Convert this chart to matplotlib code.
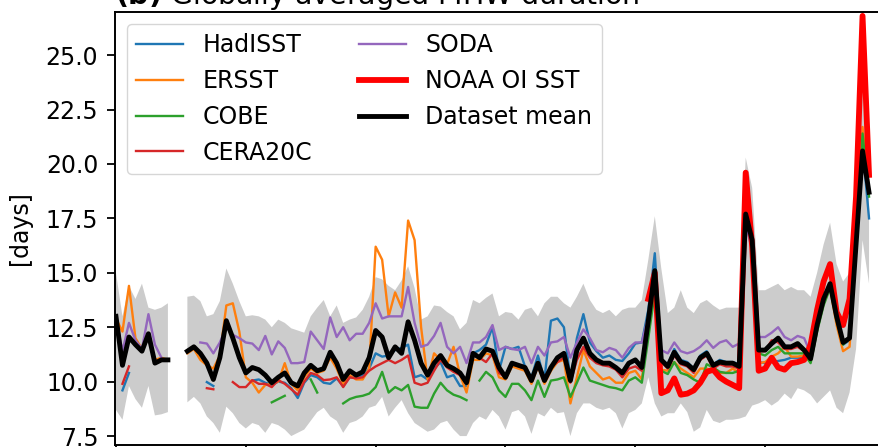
import numpy as np
import matplotlib
matplotlib.use("Agg")
import matplotlib.pyplot as plt

nan = np.nan

# annual values, 1900-2016
years = np.arange(1900, 2017)
noaa_years = np.arange(1982, 2017)

dataset_mean = [
    13.0, 10.75, 12.05, 11.7, 11.4, 12.2, 10.85, 11.0, 11.0, nan,
    nan, 11.4, 11.6, 11.3, 10.85, 10.1, 11.1, 12.8, 12.0, 11.1,
    10.4, 10.65, 10.55, 10.3, 9.95, 10.2, 10.4, 9.95, 9.8, 10.4,
    10.75, 10.5, 10.6, 11.35, 10.85, 10.1, 10.5, 10.3, 10.45, 11.1,
    12.35, 12.05, 11.1, 11.6, 11.3, 12.75, 11.9, 10.85, 10.3, 10.85,
    11.2, 10.75, 10.6, 10.4, 9.95, 11.3, 11.1, 11.5, 11.4, 10.65,
    10.2, 10.85, 10.75, 10.65, 10.05, 10.85, 10.05, 10.65, 11.1, 11.3,
    10.05, 11.45, 12.0, 11.3, 11.0, 10.85, 10.85, 10.65, 10.4, 10.85,
    11.0, 10.65, 12.8, 15.1, 11.0, 10.7, 11.35, 10.9, 10.8, 10.55,
    11.1, 11.3, 10.75, 10.9, 10.85, 10.85, 10.7, 17.7, 16.5, 11.45,
    11.45, 11.75, 12.0, 11.6, 11.6, 11.75, 11.45, 11.05, 12.6, 13.8,
    14.5, 13.0, 11.8, 12.0, 16.3, 20.6, 18.7,
]

spread_upper = [
    15.0, 13.0, 14.4, 13.8, 14.5, 13.4, 13.3, 13.4, 13.6, nan,
    nan, 13.9, 13.95, 13.7, 13.0, 13.1, 13.7, 15.2, 14.5, 13.7,
    13.0, 13.05, 13.0, 12.85, 12.5, 12.85, 12.7, 12.45, 12.35, 12.25,
    13.0, 13.4, 13.75, 13.0, 13.5, 12.7, 12.85, 12.95, 13.3, 13.9,
    14.8, 14.7, 14.4, 14.2, 14.65, 15.3, 14.3, 12.85, 13.0, 13.5,
    13.45, 13.2, 13.0, 12.4, 12.7, 13.75, 13.6, 13.85, 14.05, 13.0,
    13.2, 13.15, 12.85, 13.3, 13.4, 13.0, 13.6, 13.9, 13.9, 13.6,
    13.4, 13.9, 14.5, 13.75, 13.3, 13.15, 13.3, 13.0, 13.3, 13.4,
    13.4, 13.75, 15.6, 17.6, 15.2, 13.15, 13.4, 14.2, 13.4, 13.15,
    13.6, 13.75, 13.5, 13.3, 13.4, 13.4, 13.4, 20.3, 18.9, 14.2,
    14.2, 14.35, 14.5, 14.2, 14.35, 14.2, 14.2, 13.9, 15.0, 16.3,
    17.3, 15.4, 14.6, 15.0, 19.5, 24.5, 19.8,
]

spread_lower = [
    8.7, 8.25, 9.8, 9.2, 8.8, 9.8, 8.45, 8.5, 8.6, nan,
    nan, 9.05, 9.3, 9.0, 8.4, 8.1, 7.65, 8.85, 8.55, 8.1,
    7.85, 8.1, 8.0, 7.65, 8.1, 8.0, 7.8, 7.5, 7.65, 7.8,
    8.2, 8.6, 8.8, 8.4, 8.2, 7.65, 8.1, 8.2, 8.4, 8.8,
    8.9, 9.3, 8.4, 8.8, 9.15, 8.55, 8.1, 7.9, 7.7, 7.8,
    8.1, 8.2, 7.8, 7.5, 7.5, 8.1, 8.4, 8.25, 8.7, 8.4,
    7.8, 8.6, 8.7, 8.4, 7.6, 8.55, 8.4, 8.8, 8.55, 8.6,
    7.5, 8.55, 9.0, 9.0, 8.8, 8.7, 8.8, 8.55, 7.85, 8.55,
    8.7, 9.0, 10.2, 9.0, 8.4, 8.55, 8.55, 9.0, 8.6, 7.7,
    7.9, 8.7, 8.2, 8.1, 8.25, 8.25, 8.3, 8.4, 8.9, 9.0,
    9.15, 8.9, 9.1, 9.45, 9.2, 9.7, 9.6, 9.4, 9.0, 9.3,
    9.6, 8.8, 8.55, 9.5, 11.5, 16.5, 14.5,
]

hadisst = [
    nan, 9.6, 10.4, nan, nan, nan, nan, nan, nan, nan,
    nan, nan, nan, nan, 9.98, 9.8, nan, nan, nan, nan,
    nan, 10.05, 10.1, 9.95, 9.85, 10.0, 9.95, 9.7, 9.25, 9.95,
    10.3, 10.2, 9.95, 9.9, 10.15, 9.8, 10.2, 10.2, 10.3, 10.6,
    11.3, 11.15, 11.2, 11.45, 11.55, 11.7, 10.2, 10.3, 10.1, 10.6,
    10.9, 10.2, 10.3, 9.8, 9.8, 11.3, 11.45, 11.7, 12.5, 10.5,
    11.6, 11.5, 11.6, 10.7, 10.2, 11.2, 10.1, 12.8, 12.9, 12.5,
    10.1, 12.0, 13.1, 11.8, 11.4, 11.1, 11.2, 11.0, 10.95, 11.3,
    11.75, 11.8, 13.3, 15.9, 11.0, 10.8, 11.5, 11.0, 10.9, 10.6,
    11.2, 11.4, 10.8, 11.0, 10.9, 10.9, 10.8, 17.8, 16.6, 10.9,
    10.85, 10.9, 10.95, 11.0, 11.1, 11.1, 11.1, 11.0, 12.4, 13.7,
    14.4, 12.9, 11.7, 11.9, 16.2, 20.8, 17.5,
]

ersst = [
    12.9, 12.3, 14.4, 12.0, 11.5, 12.2, 11.0, 11.1, 11.0, nan,
    nan, 11.3, 11.5, 11.0, 10.75, 10.6, 11.2, 13.5, 13.6, 12.3,
    10.2, 9.95, 9.5, 9.85, 9.9, 10.0, 10.85, 9.9, 9.6, 10.2,
    10.6, 10.4, 10.5, 11.1, 10.6, 9.9, 10.3, 10.1, 10.1, 10.6,
    16.2, 15.6, 13.0, 14.1, 13.4, 17.4, 16.5, 12.5, 10.1, 11.3,
    11.0, 10.8, 11.6, 10.3, 9.5, 11.0, 11.0, 11.3, 11.2, 10.2,
    10.1, 10.7, 10.6, 10.5, 9.9, 10.7, 9.9, 10.5, 10.9, 11.0,
    9.0, 10.2, 11.45, 10.7, 10.4, 10.1, 10.2, 9.95, 9.95, 10.4,
    10.5, 10.1, 12.5, 14.8, 10.55, 10.5, 10.9, 10.6, 10.4, 10.2,
    10.6, 10.6, 10.5, 10.4, 10.4, 10.6, 10.4, 17.5, 16.3, 10.85,
    10.9, 11.15, 11.3, 11.6, 11.15, 11.15, 11.2, 10.9, 12.4, 13.6,
    14.3, 12.6, 11.4, 11.6, 16.0, 21.7, 18.8,
]

cobe = [
    nan, nan, nan, nan, nan, nan, nan, nan, nan, nan,
    nan, nan, nan, nan, nan, nan, nan, nan, nan, nan,
    nan, nan, nan, nan, 9.05, 9.2, 9.35, nan, nan, nan,
    10.1, 9.5, nan, nan, nan, 9.0, 9.2, 9.3, 9.35, 9.45,
    9.75, 10.45, 9.5, 9.75, 9.6, 9.85, 8.85, 8.8, 8.8, 9.45,
    9.95, 9.6, 9.4, 9.3, 9.15, nan, 10.05, 10.45, 10.2, 9.6,
    9.3, 9.9, 9.9, 9.6, 9.15, 10.05, 9.3, 10.05, 10.1, 10.2,
    9.3, 9.95, 10.65, 10.05, 9.95, 9.85, 9.75, 9.7, 9.6, 10.05,
    10.2, 9.95, 12.0, 14.1, 10.5, 10.35, 10.9, 10.4, 10.3, 10.1,
    9.95, 10.8, 10.65, 10.45, 10.4, 10.4, 10.5, 17.4, 16.2, 11.3,
    11.2, 11.45, 11.6, 11.3, 11.3, 11.3, 11.3, 10.85, 12.3, 13.5,
    14.3, 12.8, 11.7, 12.0, 16.0, 21.4, 18.5,
]

cera20c = [
    nan, 9.9, 10.7, nan, nan, nan, nan, nan, nan, nan,
    nan, nan, nan, nan, 9.7, 9.65, nan, nan, 9.98, 9.75,
    9.75, 10.07, 9.9, 9.9, 9.75, 10.07, 9.9, 9.65, 9.4, 10.0,
    10.4, 10.3, 10.07, 10.1, 10.2, 9.75, 10.2, 10.15, 10.2, 10.5,
    10.7, 10.85, 11.0, 10.85, 11.0, 11.2, 9.95, 9.85, 9.95, 10.5,
    11.0, 10.65, 10.45, 10.3, 9.95, 11.2, 11.1, 10.9, 11.3, 10.4,
    10.2, 10.85, 10.7, 10.6, 10.05, 10.7, 10.2, 10.65, 10.9, 11.1,
    9.95, 11.0, 11.6, 11.1, 10.85, 10.75, 10.7, 10.55, 10.2, 10.6,
    10.7, 10.5, 12.6, 14.9, 10.9, 10.6, 11.2, 10.8, 10.7, 10.4,
    11.0, 11.2, 10.6, 10.8, 10.7, 10.7, 10.6, 17.5, 16.3, 11.4,
    11.4, 11.9, 11.8, 11.5, 11.5, 11.6, 11.4, 11.0, 12.5, 13.7,
    14.5, nan, nan, nan, nan, nan, nan,
]

soda = [
    12.9, 11.4, 12.7, 11.9, 11.5, 13.1, 11.7, 11.1, nan, nan,
    nan, nan, nan, 11.8, 11.75, 11.3, 11.8, 12.5, 12.15, 12.0,
    11.8, 11.75, 11.45, 12.1, 11.25, 11.85, 11.55, 10.85, 10.85, 10.9,
    12.3, 11.9, 11.5, 12.95, 12.05, 12.5, 11.9, 12.2, 12.2, 12.7,
    13.6, 12.9, 13.0, 13.0, 13.0, 14.35, 12.7, 11.6, 11.7, 12.1,
    12.7, 11.6, 11.3, 11.6, 10.85, 11.8, 11.8, 12.05, 12.6, 11.45,
    11.6, 11.5, 11.45, 11.6, 10.85, 11.6, 11.2, 11.8, 11.85, 12.05,
    11.1, 11.8, 12.4, 12.0, 11.45, 11.35, 11.55, 11.45, 11.1, 11.55,
    11.8, 11.8, 13.0, 14.4, 11.45, 11.3, 11.8, 11.4, 11.3, 11.4,
    11.6, 11.9, 11.55, 11.8, 11.9, 11.6, 11.75, 17.3, 16.0, 12.05,
    12.05, 12.25, 12.5, 12.05, 11.9, 12.1, 12.0, 11.3, 12.7, 13.9,
    14.4, nan, nan, nan, nan, nan, nan,
]

noaa_oisst = [
    13.8, 15.0, 9.47, 9.6, 10.15, 9.4, 9.45, 9.6, 9.95, 10.45,
    10.55, 10.2, 10.0, 9.85, 9.7, 19.6, 16.2, 10.5, 10.6, 11.1,
    10.65, 10.55, 10.85, 10.9, 11.0, 11.7, 13.3, 14.6, 15.4, 13.2,
    12.6, 13.8, 18.5, 26.8, 19.5,
]


def main():
    plt.rcParams['font.size'] = 17
    fig = plt.figure(figsize=(8.79, 4.47), dpi=100)
    # axes run past the right edge of the canvas
    ax = fig.add_axes([115 / 879, 2 / 447, 780 / 879, 433 / 447])

    ax.fill_between(years, spread_lower, spread_upper, color='0.8', lw=0)

    ax.plot(years, hadisst, color='C0', lw=1.7, label='HadISST')
    ax.plot(years, ersst, color='C1', lw=1.7, label='ERSST')
    ax.plot(years, cobe, color='C2', lw=1.7, label='COBE')
    ax.plot(years, cera20c, color='C3', lw=1.7, label='CERA20C')
    ax.plot(years, soda, color='C4', lw=1.7, label='SODA')
    ax.plot(noaa_years, noaa_oisst, color='red', lw=4.2, label='NOAA OI SST')
    ax.plot(years, dataset_mean, color='black', lw=3.5, label='Dataset mean')

    ax.set_xlim(1899.85, 2019.85)
    ax.set_ylim(7.09, 26.98)
    ax.set_yticks(np.arange(7.5, 25.1, 2.5))
    ax.set_xticks(np.arange(1900, 2021, 20))
    ax.tick_params(labelbottom=False, length=6, width=1.3, pad=6)
    for s in ax.spines.values():
        s.set_linewidth(1.4)
    ax.set_ylabel('[days]', labelpad=10)
    ax.set_title(r'$\bf{(b)}$ Globally averaged MHW duration', loc='left', pad=2)

    ax.legend(loc='upper left', ncol=2, fontsize=17)

    fig.savefig('out.png', dpi=100)


main()
